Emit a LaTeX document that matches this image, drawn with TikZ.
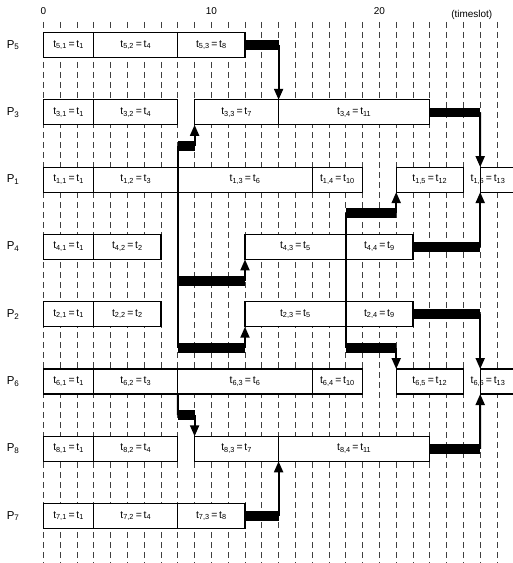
\documentclass[tikz,border=0pt]{standalone}
\usepackage{fontspec}
\setmainfont{Liberation Sans}
\usetikzlibrary{arrows.meta}

\newcommand{\tlab}[2]{t\textsubscript{#1}\,=\,t\textsubscript{#2}}

\begin{document}
\begin{tikzpicture}[x=16.8bp, y=-1bp,
                    task/.style = {draw, fill=white, line width=1.1bp, minimum height=25bp, inner sep=0pt, outer sep=0pt, anchor=west, font=\fontsize{10.5}{12}\selectfont},
                    proc/.style = {font=\fontsize{11.5}{13}\selectfont},
                    tick/.style = {font=\fontsize{10}{12}\selectfont},
                    slotline/.style = {line width=0.7bp, dash pattern=on 6bp off 4bp, black!75},
                    bar/.style = {line width=9.5bp},
                    link/.style = {line width=2bp},
                    msg/.style = {line width=2bp, -{Triangle[width=9bp, length=11bp]}}
                ]
                \useasboundingbox (-2.583,0) rectangle (27.893,563);

                \foreach \s in {0,...,27}
                    \draw[slotline] (\s,22) -- (\s,563);

                \node[tick] (n0) at (0,11) {0};
                \node[tick] (n10) at (10,11) {10};
                \node[tick] (n20) at (20,11) {20};
                \node[tick] (unit) at (25.5,15) {(timeslot)};

                \foreach \n/\r in {5/0, 3/1, 1/2, 4/3, 2/4, 6/5, 8/6, 7/7}
                    \node[proc] (p\n) at (-1.8,{45+67.3*\r}) {P\textsubscript{\n}};

                \foreach \n/\r/\s/\e/\a/\b in {t51/0/0/3/{5,1}/1, t52/0/3/8/{5,2}/4, t53/0/8/12/{5,3}/8,
                        t31/1/0/3/{3,1}/1, t32/1/3/8/{3,2}/4, t33/1/9/14/{3,3}/7, t34/1/14/23/{3,4}/{11},
                        t11/2/0/3/{1,1}/1, t12/2/3/8/{1,2}/3, t13/2/8/16/{1,3}/6, t14/2/16/19/{1,4}/{10}, t15/2/21/25/{1,5}/{12},
                        t41/3/0/3/{4,1}/1, t42/3/3/7/{4,2}/2, t43/3/12/18/{4,3}/5, t44/3/18/22/{4,4}/9,
                        t21/4/0/3/{2,1}/1, t22/4/3/7/{2,2}/2, t23/4/12/18/{2,3}/5, t24/4/18/22/{2,4}/9,
                        t61/5/0/3/{6,1}/1, t62/5/3/8/{6,2}/3, t63/5/8/16/{6,3}/6, t64/5/16/19/{6,4}/{10}, t65/5/21/25/{6,5}/{12},
                        t81/6/0/3/{8,1}/1, t82/6/3/8/{8,2}/4, t83/6/9/14/{8,3}/7, t84/6/14/23/{8,4}/{11},
                        t71/7/0/3/{7,1}/1, t72/7/3/8/{7,2}/4, t73/7/8/12/{7,3}/8}
                    \node[task, minimum width={(\e-\s)*16.8bp}] (\n) at (\s,{45+67.3*\r}) {\tlab{\a}{\b}};

                \node[task, minimum width=33.6bp, label={[xshift=-9bp, font=\fontsize{10.5}{12}\selectfont]center:\tlab{1,6}{13}}] (t16) at (26,179.6) {};
                \node[task, minimum width=33.6bp, label={[xshift=-9bp, font=\fontsize{10.5}{12}\selectfont]center:\tlab{6,6}{13}}] (t66) at (26,381.5) {};

                \draw[bar] (t53.east) -- ++(2,0) coordinate (c5);
                \draw[msg] (c5) -- (t34.north west);
                \draw[bar] (t34.east) -- ++(3,0) coordinate (c3);
                \draw[msg] (c3) -- (t16.north west);
                \draw[bar] (t44.east) -- ++(4,0) coordinate (c4);
                \draw[msg] (c4) -- (t16.south west);
                \draw[bar] (t24.east) -- ++(4,0) coordinate (c2);
                \draw[msg] (c2) -- (t66.north west);
                \draw[bar] (t84.east) -- ++(3,0) coordinate (c8);
                \draw[msg] (c8) -- (t66.south west);
                \draw[bar] (t73.east) -- ++(2,0) coordinate (c7);
                \draw[msg] (c7) -- (t84.south west);

                \coordinate (s3) at (8,146);
                \coordinate (s4) at (8,281);
                \coordinate (s2) at (8,348);
                \draw[link] (s3) -- (s2);
                \draw[bar] (s3) -- ++(1,0) coordinate (d3);
                \draw[msg] (d3) -- (t33.south west);
                \draw[bar] (s4) -- ++(4,0) coordinate (d4);
                \draw[msg] (d4) -- (t43.south west);
                \draw[bar] (s2) -- ++(4,0) coordinate (d2);
                \draw[msg] (d2) -- (t23.south west);

                \coordinate (f1) at (18,213);
                \coordinate (f6) at (18,348);
                \draw[link] (f1) -- (f6);
                \draw[bar] (f1) -- ++(3,0) coordinate (g1);
                \draw[msg] (g1) -- (t15.south west);
                \draw[bar] (f6) -- ++(3,0) coordinate (g6);
                \draw[msg] (g6) -- (t65.north west);

                \coordinate (h8) at (8,415);
                \draw[link] (t62.south east) -- (h8);
                \draw[bar] (h8) -- ++(1,0) coordinate (k8);
                \draw[msg] (k8) -- (t83.north west);

            \end{tikzpicture}
\end{document}
